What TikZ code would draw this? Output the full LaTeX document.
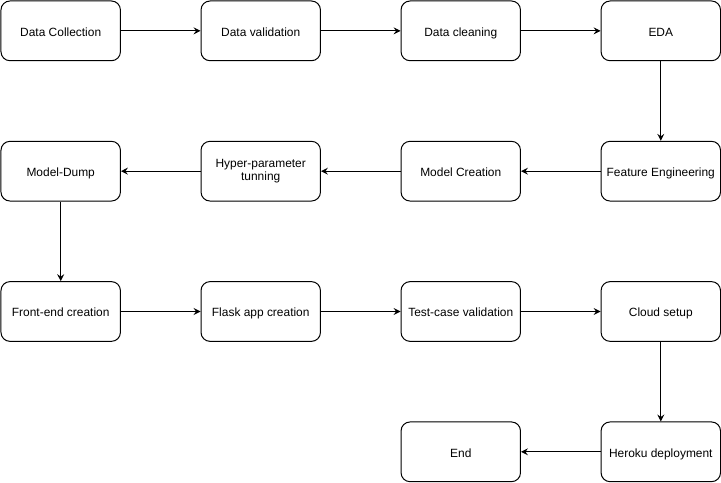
\documentclass[tikz,border=0pt]{standalone}
\usepackage{fontspec}
\setmainfont{Liberation Sans}
\usetikzlibrary{arrows.meta,positioning}
\tikzset{
  stagebox/.style={
    rectangle, rounded corners=9pt, draw=black, fill=white, line width=1pt,
    minimum width=120pt, minimum height=60pt,
    font=\fontsize{12}{13.6}\selectfont, align=center,
    execute at begin node={\rule{0pt}{13.6pt}},
    execute at end node={\rule[-3pt]{0pt}{3pt}},
    inner sep=2pt
  },
  flowarrow/.style={
    -{Stealth[length=7pt, width=7pt, inset=2.5pt]}, line width=1pt, black
  },
}
\begin{document}
\begin{tikzpicture}[node distance=80pt and 80pt]
  % row 1
  \node[stagebox] (dc) {Data Collection};
  \node[stagebox, right=of dc] (dv) {Data validation};
  \node[stagebox, right=of dv] (dcl) {Data cleaning};
  \node[stagebox, right=of dcl] (eda) {EDA};
  % row 2
  \node[stagebox, below=of eda] (fe) {Feature Engineering};
  \node[stagebox, left=of fe] (mc) {Model Creation};
  \node[stagebox, left=of mc] (hp) {Hyper-parameter\\tunning};
  \node[stagebox, left=of hp] (md) {Model-Dump};
  % row 3
  \node[stagebox, below=of md] (fc) {Front-end creation};
  \node[stagebox, right=of fc] (fa) {Flask app creation};
  \node[stagebox, right=of fa] (tc) {Test-case validation};
  \node[stagebox, right=of tc] (cs) {Cloud setup};
  % row 4
  \node[stagebox, below=of cs] (hd) {Heroku deployment};
  \node[stagebox, left=of hd] (fin) {End};

  \useasboundingbox ([shift={(-0.5pt,0.5pt)}]dc.north west)
    rectangle ([shift={(-0.5pt,-0.5pt)}]hd.south east -| cs.east);

  \draw[flowarrow] (dc) -- (dv);
  \draw[flowarrow] (dv) -- (dcl);
  \draw[flowarrow] (dcl) -- (eda);
  \draw[flowarrow] (eda) -- (fe);
  \draw[flowarrow] (fe) -- (mc);
  \draw[flowarrow] (mc) -- (hp);
  \draw[flowarrow] (hp) -- (md);
  \draw[flowarrow] (md) -- (fc);
  \draw[flowarrow] (fc) -- (fa);
  \draw[flowarrow] (fa) -- (tc);
  \draw[flowarrow] (tc) -- (cs);
  \draw[flowarrow] (cs) -- (hd);
  \draw[flowarrow] (hd) -- (fin);
\end{tikzpicture}
\end{document}
